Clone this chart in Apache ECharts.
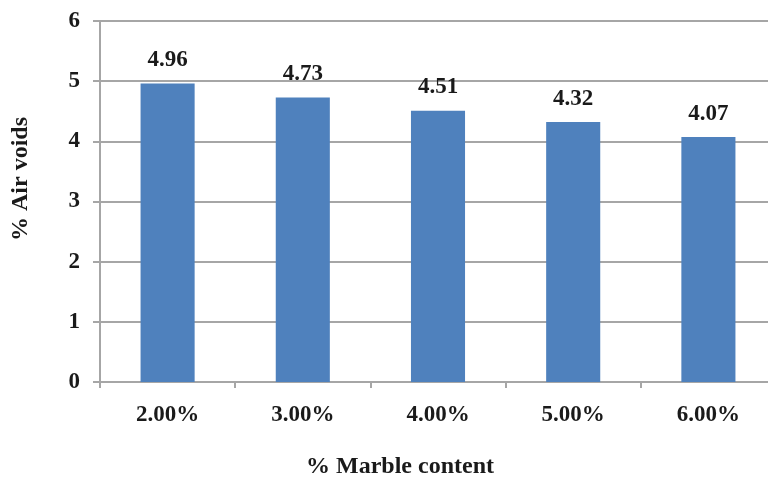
<!DOCTYPE html>
<html>
<head>
<meta charset="utf-8">
<script src="https://cdn.jsdelivr.net/npm/echarts@6/dist/echarts.min.js"></script>
<style>
  html, body { margin: 0; padding: 0; background: #fff; overflow: hidden; width: 768px; height: 479px; }
  /* the plot area runs a little past the right edge of the page */
  #chart { width: 776px; height: 479px; }
</style>
</head>
<body>
<div id="chart"></div>
<script>
// Air voids measured at each marble content level
const categories = ['2.00%', '3.00%', '4.00%', '5.00%', '6.00%'];
const airVoids = [4.96, 4.73, 4.51, 4.32, 4.07];
const yTicks = { min: 0, max: 6, interval: 1 };
const xTitle = '% Marble content';
const yTitle = '% Air voids';

const serif = '"Liberation Serif", "DejaVu Serif", serif';
const gridColor = '#a6a6a6';
const textColor = '#1a1a1a';

const chart = echarts.init(document.getElementById('chart'), null, { renderer: 'canvas' });

chart.setOption({
  animation: false,
  backgroundColor: '#ffffff',
  grid: { left: 100, right: 0, top: 21, bottom: 97, containLabel: false },
  xAxis: {
    type: 'category',
    data: categories,
    boundaryGap: true,
    axisLine: { show: true, lineStyle: { color: gridColor, width: 2 } },
    axisTick: { show: true, alignWithLabel: false, length: 6, lineStyle: { color: gridColor, width: 2 } },
    axisLabel: {
      margin: 22,
      fontFamily: serif, fontWeight: 'bold', fontSize: 23, color: textColor
    },
    splitLine: { show: false }
  },
  yAxis: {
    type: 'value',
    min: yTicks.min, max: yTicks.max, interval: yTicks.interval,
    axisLine: { show: true, lineStyle: { color: gridColor, width: 2 } },
    axisTick: { show: true, length: 7, lineStyle: { color: gridColor, width: 2 } },
    axisLabel: {
      margin: 20,
      fontFamily: serif, fontWeight: 'bold', fontSize: 23, color: textColor
    },
    splitLine: { show: true, lineStyle: { color: gridColor, width: 2 } }
  },
  series: [{
    type: 'bar',
    data: airVoids,
    barWidth: '40%',
    itemStyle: { color: '#4f81bd' },
    label: {
      show: true,
      position: 'top',
      distance: 12,
      formatter: p => p.value.toFixed(2),
      fontFamily: serif, fontWeight: 'bold', fontSize: 23, color: textColor
    }
  }],
  graphic: [
    {
      type: 'text',
      x: 21, y: 179,
      rotation: Math.PI / 2,
      style: {
        text: yTitle,
        font: 'bold 24px ' + serif,
        fill: textColor,
        align: 'center',
        verticalAlign: 'middle'
      }
    },
    {
      type: 'text',
      x: 400, y: 467,
      style: {
        text: xTitle,
        font: 'bold 24px ' + serif,
        fill: textColor,
        align: 'center',
        verticalAlign: 'middle'
      }
    }
  ]
});
</script>
</body>
</html>
